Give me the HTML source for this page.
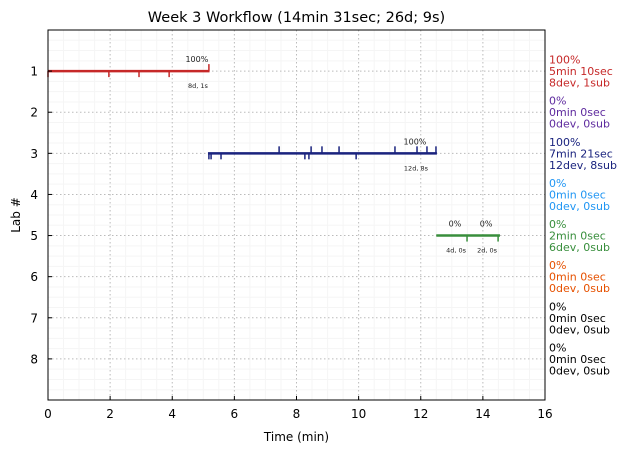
<!DOCTYPE html>
<html><head><meta charset="utf-8"><style>
html,body{margin:0;padding:0;background:#fff;}
svg{display:block;font-family:"DejaVu Sans","Liberation Sans",sans-serif;}
</style></head><body>
<svg id="c" width="627" height="453"></svg>
<script>
const labs=[1,2,3,4,5,6,7,8];
const xTicks=[0,2,4,6,8,10,12,14,16];
const labColors=['#c62828','#5e2a9e','#1a237e','#2196f3','#388e3c','#e65100','#000000','#000000'];
const labPct=['100%','0%','100%','0%','0%','0%','0%','0%'];
const labTime=['5min 10sec','0min 0sec','7min 21sec','0min 0sec','2min 0sec','0min 0sec','0min 0sec','0min 0sec'];
const labCount=['8dev, 1sub','0dev, 0sub','12dev, 8sub','0dev, 0sub','6dev, 0sub','0dev, 0sub','0dev, 0sub','0dev, 0sub'];
const segLab=[1,3,5];
const segStart=[0,5.15,12.5];
const segEnd=[5.2,12.52,14.55];
const devTimes=[[0,1.96,2.93,3.9],[5.18,5.25,5.57,8.27,8.4,9.92],[13.49,14.49]];
const subTimes=[[5.18],[7.44,8.47,8.82,9.37,11.17,11.88,12.2,12.49],[]];
const annPct=[['100%'],['100%'],['0%','0%']];
const annAt=[[5.18],[12.2],[13.49,14.49]];
const annSub=[['8d, 1s'],['12d, 8s'],['4d, 0s','2d, 0s']];
const segColor=['#c62828','#1a237e','#388e3c'];

const L=48,R=545,T=30,B=400;
const X=v=>L+(R-L)*v/16, Y=v=>T+(B-T)*v/9;
const svg=document.getElementById('c'),NS='http://www.w3.org/2000/svg';
function el(t,a,txt){const e=document.createElementNS(NS,t);for(const k in a)e.setAttribute(k,a[k]);if(txt!=null)e.textContent=txt;svg.appendChild(e);return e;}
for(let v=0.5;v<16;v+=0.5){if(v%2===0)continue;const g=el('line',{x1:X(v),x2:X(v),y1:T,y2:B,stroke:'#f5f5f5','stroke-width':1});}
for(let v=0.25;v<9;v+=0.25){if(v%1===0)continue;const g=el('line',{x1:L,x2:R,y1:Y(v),y2:Y(v),stroke:'#f5f5f5','stroke-width':1});}
xTicks.forEach(v=>{if(v>0&&v<16){const g=el('line',{x1:X(v),x2:X(v),y1:T,y2:B,stroke:'#bbb','stroke-dasharray':'1.5,2.5'});}});
labs.forEach(v=>{const g=el('line',{x1:L,x2:R,y1:Y(v),y2:Y(v),stroke:'#bbb','stroke-dasharray':'1.5,2.5'});});
segLab.forEach((lab,i)=>{
 const y=Y(lab),c=segColor[i];
 const s=el('line',{x1:X(segStart[i]),x2:X(segEnd[i]),y1:y,y2:y,stroke:c,'stroke-width':2.5});
 
 devTimes[i].forEach(t=>{const m=el('line',{x1:X(t),x2:X(t),y1:y,y2:y+6,stroke:c,'stroke-width':1.5});});
 subTimes[i].forEach(t=>{const m=el('line',{x1:X(t),x2:X(t),y1:y,y2:y-7,stroke:c,'stroke-width':1.5});});
 annAt[i].forEach((t,j)=>{
  const a=el('text',{x:X(t)-12,y:y-9,'font-size':8,'text-anchor':'middle',fill:'#222'},annPct[i][j]);
  const b=el('text',{x:X(t)-11,y:y+17,'font-size':6.5,'text-anchor':'middle',fill:'#222'},annSub[i][j]);
 });
});
const f=el('rect',{x:L,y:T,width:R-L,height:B-T,fill:'none',stroke:'#000','stroke-width':1});
xTicks.forEach(v=>{el('line',{x1:X(v),x2:X(v),y1:B,y2:B-4,stroke:'#000'});const t=el('text',{x:X(v),y:B+18,'font-size':12,'text-anchor':'middle'},String(v));});
labs.forEach(v=>{el('line',{x1:L,x2:L+4,y1:Y(v),y2:Y(v),stroke:'#000'});const t=el('text',{x:L-10,y:Y(v)+4.5,'font-size':12,'text-anchor':'end'},String(v));});
const xt=el('text',{x:(L+R)/2,y:441,'font-size':12,'text-anchor':'middle'},'Time (min)');
const yt=el('text',{x:20,y:(T+B)/2,'font-size':12,'text-anchor':'middle',transform:'rotate(-90 20 '+((T+B)/2)+')'},'Lab #');
const tt=el('text',{x:(L+R)/2,y:22,'font-size':14.5,'text-anchor':'middle'},'Week 3 Workflow (14min 31sec; 26d; 9s)');
labs.forEach((v,i)=>{
 [labPct[i],labTime[i],labCount[i]].forEach((s,j)=>{
  const t=el('text',{x:549,y:Y(v)+(j-1)*11.5+4,'font-size':11,fill:labColors[i]},s);
  
 });
});
</script>
</body></html>
